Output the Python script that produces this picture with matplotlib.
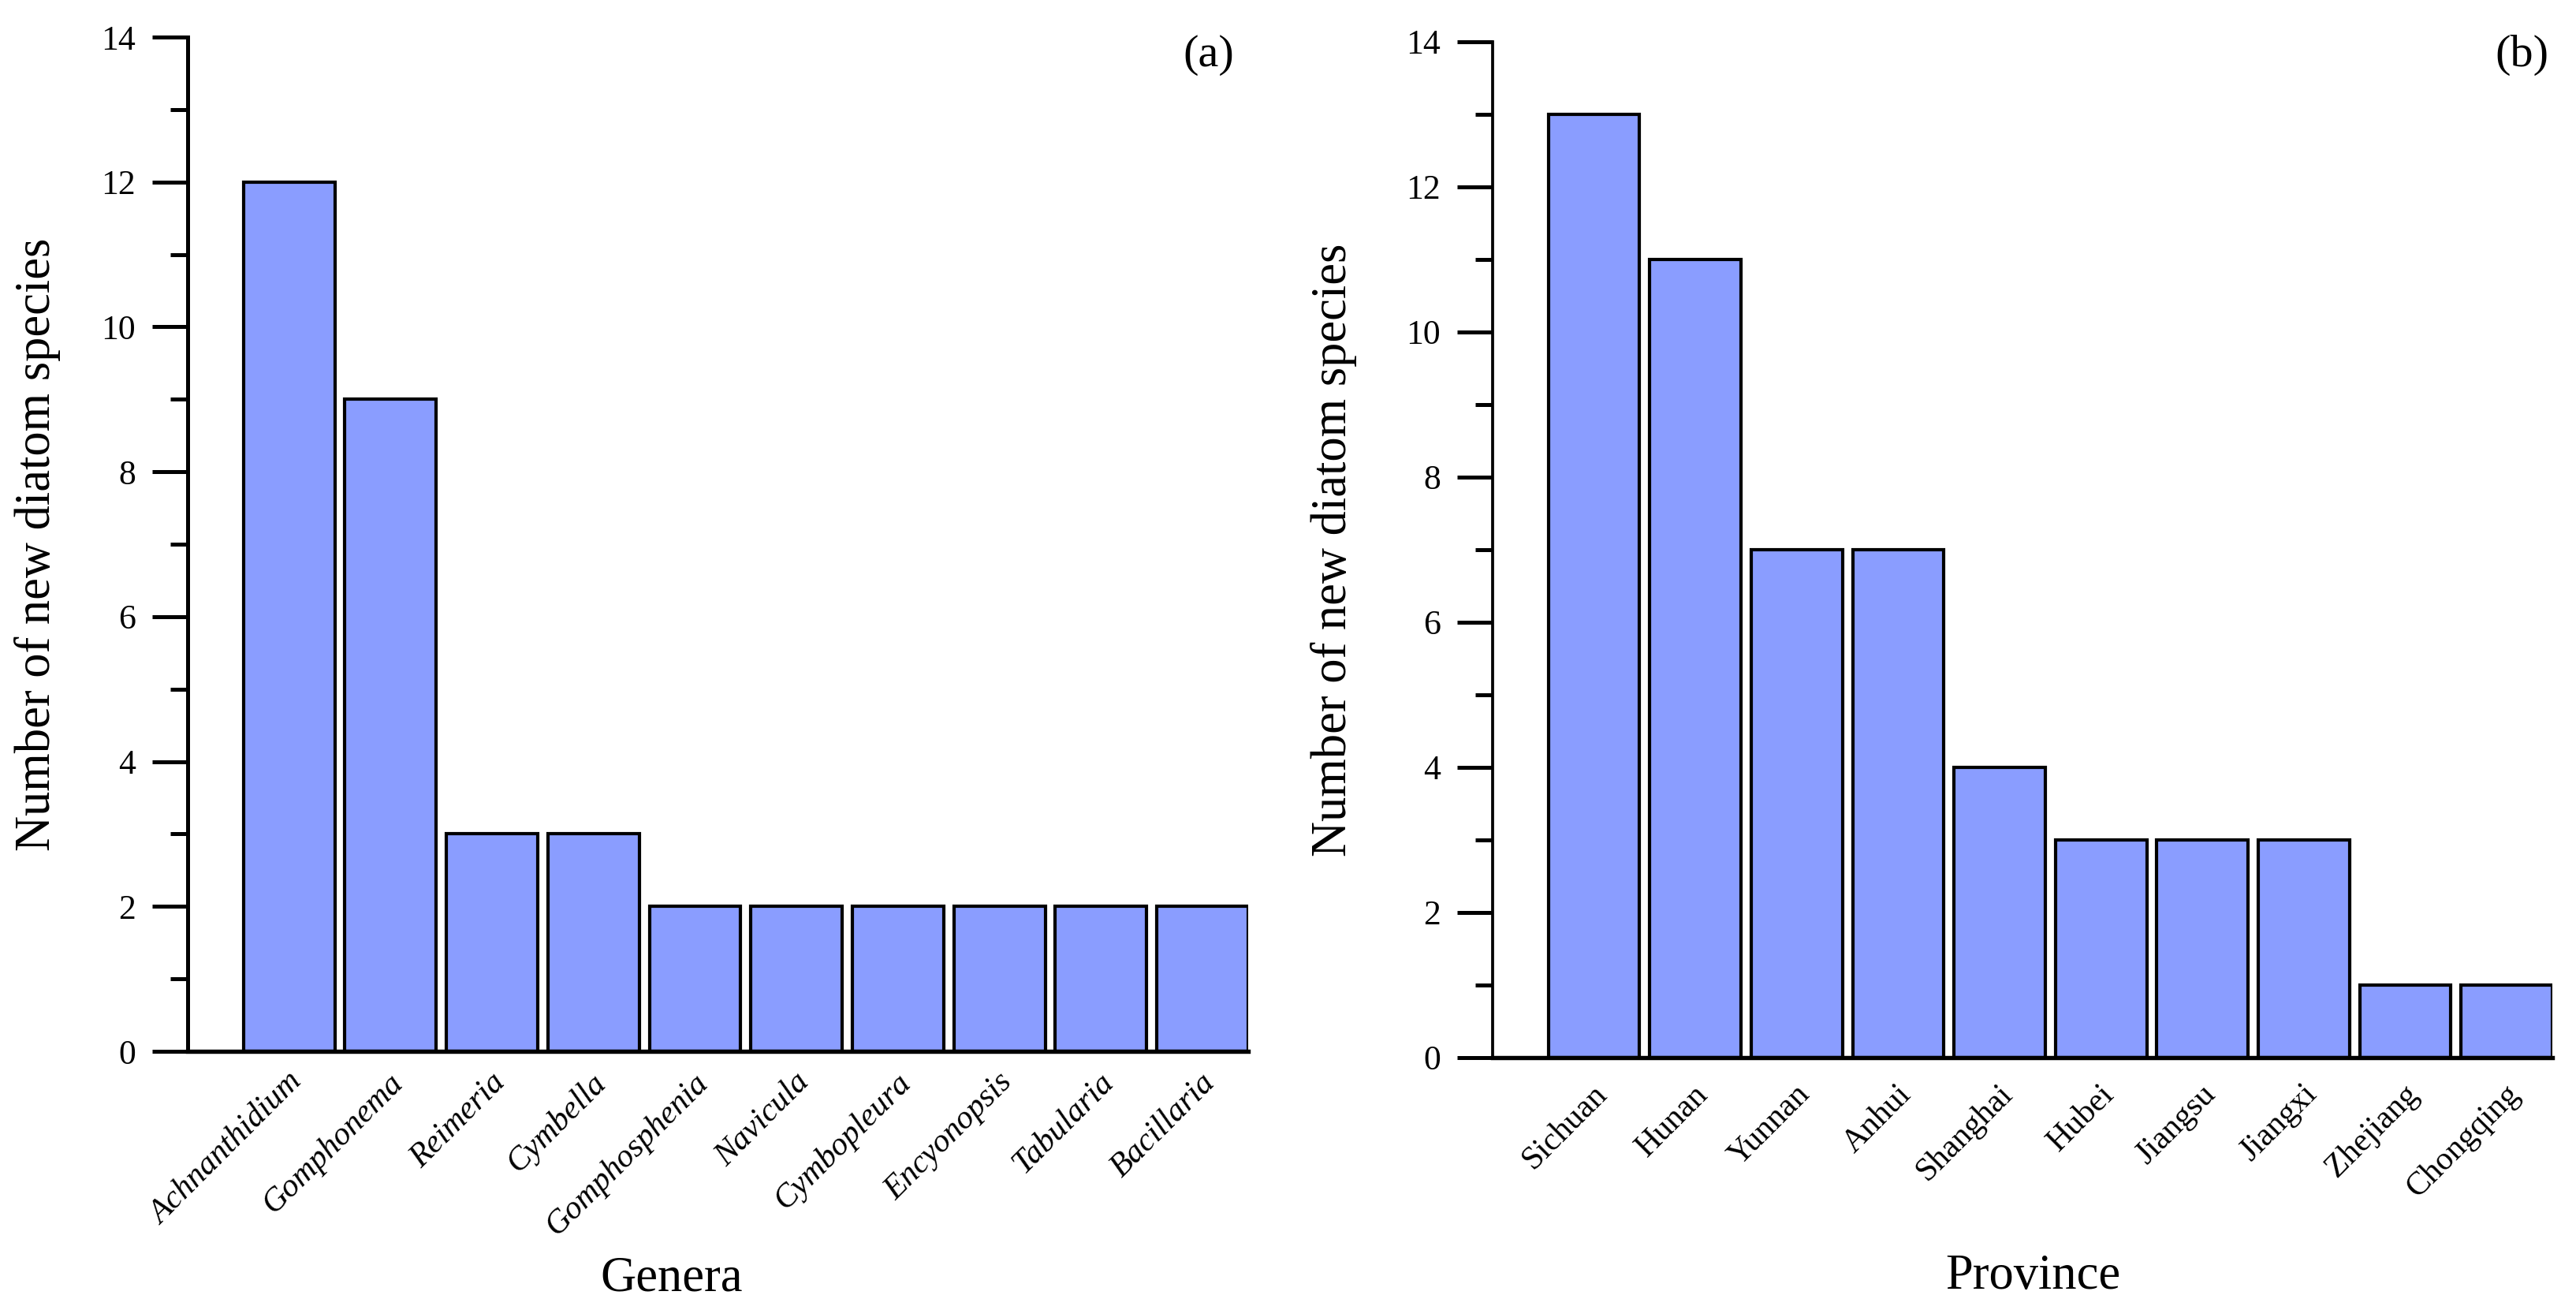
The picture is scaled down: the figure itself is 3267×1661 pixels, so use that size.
import numpy as np
import matplotlib
matplotlib.use("Agg")
import matplotlib.pyplot as plt
import matplotlib.transforms as mtransforms
from matplotlib.ticker import MultipleLocator

plt.rcParams['font.family'] = ['Liberation Serif', 'DejaVu Serif']

# data
genera = ["Achnanthidium", "Gomphonema", "Reimeria", "Cymbella", "Gomphosphenia",
          "Navicula", "Cymbopleura", "Encyonopsis", "Tabularia", "Bacillaria"]
genera_counts = [12, 9, 3, 3, 2, 2, 2, 2, 2, 2]

provinces = ["Sichuan", "Hunan", "Yunnan", "Anhui", "Shanghai",
             "Hubei", "Jiangsu", "Jiangxi", "Zhejiang", "Chongqing"]
province_counts = [13, 11, 7, 7, 4, 3, 3, 3, 1, 1]

bar_color = '#8A9DFF'
W, H, DPI = 3267, 1661, 300

fig = plt.figure(figsize=(W / DPI, H / DPI), dpi=DPI)
ax1 = fig.add_axes([238 / W, 1 - 1333 / H, 1345 / W, 1286 / H])
ax2 = fig.add_axes([1893 / W, 1 - 1341 / H, 1344 / W, 1288 / H])


def draw_panel(ax, names, counts, italic, xlabel, xlabel_x, xlabel_y, ylabel_x,
               tag, tag_xy, xpad, left_lw):
    x = np.arange(len(names))
    ax.bar(x, counts, width=0.9, color=bar_color, edgecolor='black', linewidth=1.0, zorder=2)
    ax.set_xlim(-1, len(names) - 1 + 0.45)
    ax.set_ylim(0, 14)

    for s in ['top', 'right']:
        ax.spines[s].set_visible(False)
    ax.spines['left'].set_linewidth(left_lw)
    ax.spines['bottom'].set_linewidth(1.3)
    ax.spines['bottom'].set_zorder(3)

    ax.yaxis.set_major_locator(MultipleLocator(2))
    ax.yaxis.set_minor_locator(MultipleLocator(1))
    ax.tick_params(axis='y', which='major', direction='out', length=10.8, width=1.2,
                   pad=5, labelsize=10.5)
    ax.tick_params(axis='y', which='minor', direction='out', length=5.3, width=1.2)
    ax.tick_params(axis='x', which='both', length=0, pad=xpad)

    ax.set_xticks(x)
    ax.set_xticklabels(names, rotation=45, ha='right', va='top', fontsize=10,
                       style='italic' if italic else 'normal')
    offset = mtransforms.ScaledTranslation(24 / DPI, 0, fig.dpi_scale_trans)
    for lbl in ax.get_xticklabels():
        lbl.set_transform(lbl.get_transform() + offset)

    ax.set_xlabel(xlabel, fontsize=15)
    ax.xaxis.set_label_coords(xlabel_x, xlabel_y)
    ax.xaxis.label.set_va('top')
    ax.set_ylabel("Number of new diatom species", fontsize=15)
    ax.yaxis.set_label_coords(ylabel_x, 0.5)

    ax.text(tag_xy[0], tag_xy[1], tag, transform=ax.transAxes, ha='right', va='center',
            fontsize=14)


draw_panel(ax1, genera, genera_counts, True, "Genera", 0.4565, -0.202, -0.12,
           "(a)", (0.987, 0.982), 4.8, 1.2)
draw_panel(ax2, provinces, province_counts, False, "Province", 0.51, -0.193, -0.128,
           "(b)", (0.997, 0.987), 6.5, 0.9)

fig.savefig('out.png', dpi=DPI)
